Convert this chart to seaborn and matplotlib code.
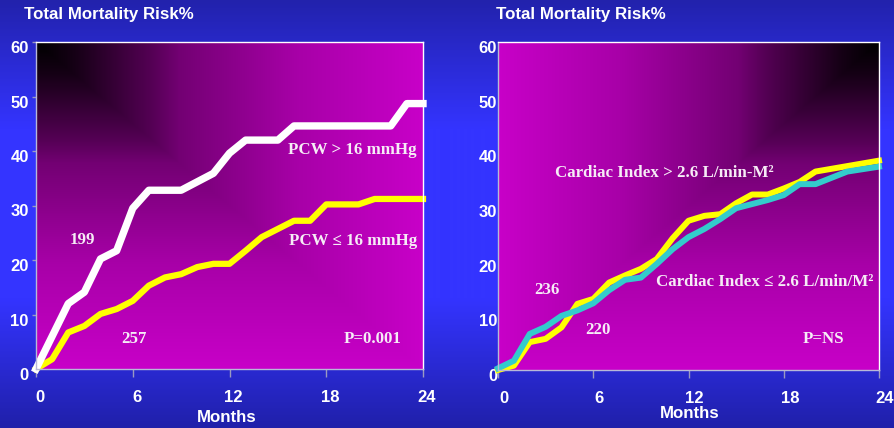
import numpy as np
import pandas as pd
import matplotlib
matplotlib.use("Agg")
import matplotlib.pyplot as plt
import seaborn as sns
from matplotlib import transforms

# ---------------- data ----------------
pcw_high_months = [0, 2, 3, 4, 5, 6, 7, 9, 11, 12, 13, 15, 16, 22, 23, 24]
pcw_high_risk = [0, 12.0, 14.1, 20.2, 21.7, 29.5, 32.8, 32.8, 35.9, 39.6, 42.0, 42.0, 44.6, 44.6, 48.7, 48.7]

pcw_low_months = [0, 1, 2, 3, 4, 5, 6, 7, 8, 9, 10, 11, 12, 13, 14, 15, 16, 17, 18, 20, 21, 24]
pcw_low_risk = [0, 1.8, 6.7, 7.9, 10.1, 11.0, 12.5, 15.3, 16.8, 17.4, 18.7, 19.3, 19.3, 21.7,
                24.2, 25.7, 27.2, 27.2, 30.2, 30.2, 31.2, 31.2]

ci_high_months = [0, 1, 2, 3, 4, 5, 6, 7, 8, 9, 10, 11, 12, 13, 14, 15, 16, 17, 18, 19, 20, 22, 24]
ci_high_risk = [0, 0.8, 5.1, 5.7, 7.8, 12.1, 13.0, 16.0, 17.3, 18.5, 20.3, 24.1, 27.3, 28.2,
                28.5, 30.5, 32.1, 32.1, 33.2, 34.4, 36.3, 37.3, 38.3]

ci_low_months = [0, 1, 2, 3, 4, 5, 6, 7, 8, 9, 10, 11, 12, 13, 14, 15, 17, 18, 19, 20, 22, 24]
ci_low_risk = [0.3, 1.7, 6.6, 7.9, 9.9, 10.9, 12.2, 14.6, 16.5, 16.9, 19.4, 22.1, 24.3, 25.8,
               27.6, 29.6, 31.1, 32.0, 34.0, 34.0, 36.3, 37.2]

x_ticks = [0, 6, 12, 18, 24]
y_ticks = [0, 10, 20, 30, 40, 50, 60]
title_text = "Total Mortality Risk%"
xlabel_text = "Months"

W, H = 894, 428
fig = plt.figure(figsize=(W / 100, H / 100), dpi=100)

# ---------------- figure background gradient ----------------
bg = fig.add_axes([0, 0, 1, 1], zorder=-10)
yy = np.linspace(0, 1, 428)
stops = [0, 0.3, 0.7, 1.0]
r = np.interp(yy, stops, [34, 52, 52, 32])
g = np.interp(yy, stops, [34, 52, 52, 32])
b = np.interp(yy, stops, [172, 255, 255, 170])
bg_img = np.stack([r, g, b], axis=-1)[:, None, :] / 255.0
bg.imshow(bg_img, aspect="auto", extent=[0, 1, 0, 1], origin="upper")
bg.set_axis_off()

def px_ax(x0, y0, x1, y1):
    return [x0 / W, 1 - y1 / H, (x1 - x0) / W, (y1 - y0) / H]

ax1 = fig.add_axes(px_ax(36, 42, 423, 369))
ax2 = fig.add_axes(px_ax(498, 42, 879, 370))

def gradient(ax, mirror):
    n = 300
    x = np.linspace(0, 1, n)
    y = np.linspace(0, 1, n)
    X, Y = np.meshgrid(x, y)
    if mirror:
        X = 1 - X
    t = np.maximum(X, Y)
    v = np.interp(t, [0, 0.1, 0.3, 0.37, 0.68, 1.0], [0, 22, 85, 115, 168, 200]) / 255.0
    img = np.stack([v, np.zeros_like(v), v], axis=-1)
    ax.imshow(img, aspect="auto", extent=[0, 24, 0, 60], origin="upper", zorder=0)

gradient(ax1, False)
gradient(ax2, True)

def draw_line(ax, months, risk, color, lw, z):
    df = pd.DataFrame({"month": months, "risk": risk})
    sns.lineplot(data=df, x="month", y="risk", ax=ax, color=color, linewidth=lw,
                 estimator=None, sort=False, legend=False, zorder=z)

draw_line(ax1, pcw_low_months, pcw_low_risk, "#ffff00", 4.5, 3)
draw_line(ax1, pcw_high_months, pcw_high_risk, "#ffffff", 5.3, 4)
draw_line(ax2, ci_high_months, ci_high_risk, "#ffff00", 4.3, 3)
draw_line(ax2, ci_low_months, ci_low_risk, "#33cccc", 4.3, 4)

for ax in (ax1, ax2):
    for ln in ax.lines:
        ln.set_clip_on(False)

sans = "Liberation Sans"
serif = "Liberation Serif"
txt_col = "#f6ecf6"

def style(ax, ypad, ylen, xoff_px):
    ax.set_xlim(0, 24)
    ax.set_ylim(0, 60)
    ax.set_xticks(x_ticks)
    ax.set_yticks(y_ticks)
    ax.set_xlabel("")
    ax.set_ylabel("")
    ax.spines["top"].set_color("white")
    ax.spines["right"].set_color("white")
    ax.spines["left"].set_color("#b8b8d8")
    ax.spines["bottom"].set_color("#b8b8d8")
    for s in ax.spines.values():
        s.set_linewidth(1.0)
        s.set_zorder(5)
    ax.tick_params(axis="y", length=ylen, width=1, color="#9a9ac0", pad=ypad,
                   labelsize=12, labelcolor="white")
    ax.tick_params(axis="x", length=6, width=1, color="#9a9ac0", pad=9.0,
                   labelsize=12, labelcolor="white")
    for lab in ax.get_yticklabels():
        lab.set_fontfamily(sans)
        lab.set_fontweight("bold")
        lab.set_transform(lab.get_transform() +
                          transforms.ScaledTranslation(0, -5 / 100, fig.dpi_scale_trans))
    for lab in ax.get_xticklabels():
        lab.set_fontfamily(sans)
        lab.set_fontweight("bold")
        lab.set_transform(lab.get_transform() +
                          transforms.ScaledTranslation(xoff_px / 100, 0, fig.dpi_scale_trans))

style(ax1, 2.2, 3, 4)
style(ax2, 0.7, 0, 6)

# titles and axis labels
fig.text(24 / W, 1 - 14 / H, title_text, fontfamily=sans, fontweight="bold", fontsize=12.2,
         color="white", ha="left", va="center")
fig.text(496 / W, 1 - 14 / H, title_text, fontfamily=sans, fontweight="bold", fontsize=12.2,
         color="white", ha="left", va="center")
fig.text(227 / W, 1 - 417 / H, xlabel_text, fontfamily=sans, fontweight="bold", fontsize=12.2,
         color="white", ha="center", va="center")
fig.text(690 / W, 1 - 414 / H, xlabel_text, fontfamily=sans, fontweight="bold", fontsize=12.2,
         color="white", ha="center", va="center")

def ann(ax, x, y, s):
    ax.text(x, y, s, fontfamily=serif, fontweight="bold", fontsize=12.2, color=txt_col,
            ha="center", va="center", zorder=6)

ann(ax1, 19.6, 40.2, "PCW > 16 mmHg")
ann(ax1, 19.66, 23.5, "PCW ≤ 16 mmHg")
ann(ax1, 2.9, 23.7, "199")
ann(ax1, 6.1, 5.5, "257")
ann(ax1, 20.9, 5.5, "P=0.001")

ann(ax2, 10.46, 36.0, "Cardiac Index > 2.6 L/min-M²")
ann(ax2, 16.8, 16.1, "Cardiac Index ≤ 2.6 L/min/M²")
ann(ax2, 3.06, 14.6, "236")
ann(ax2, 6.3, 7.3, "220")
ann(ax2, 20.5, 5.7, "P=NS")

fig.savefig("out.png", dpi=100)
